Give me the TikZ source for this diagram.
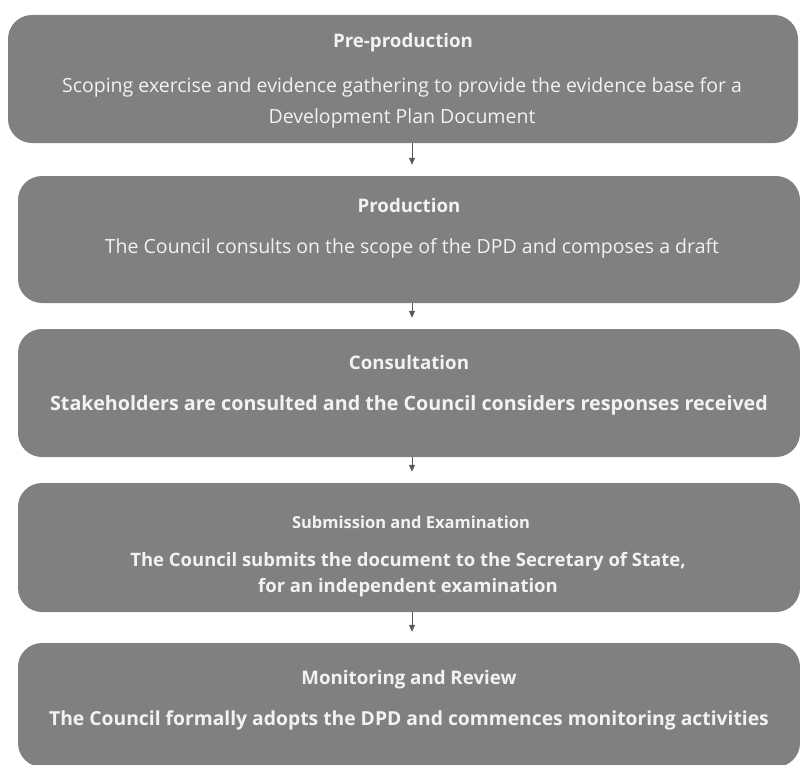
\documentclass[tikz,border=0pt]{standalone}
\usepackage{fontspec}
\setmainfont{Open Sans}
\usetikzlibrary{positioning,arrows.meta}

\definecolor{cor_caixa}{HTML}{808080}
\definecolor{cor_texto}{HTML}{F2F2F2}
\definecolor{cor_seta}{HTML}{5A5A5A}

\begin{document}
\begin{tikzpicture}[x=1pt,y=-1pt]
        \tikzset{
            etapa/.style={
                fill=cor_caixa,
                rounded corners=24pt,
                minimum width=782pt,
                minimum height=#1,
                inner sep=0pt
            },
            titulo/.style={
                text=cor_texto,
                font=\fontsize{#1}{22pt}\selectfont\bfseries,
                inner sep=0pt
            },
            titulo/.default=18.7pt,
            corpo/.style={
                text=cor_texto,
                align=center,
                font=\fontsize{19.5pt}{#1}\selectfont,
                inner sep=0pt
            },
            negrito/.style 2 args={
                text=cor_texto,
                align=center,
                font=\fontsize{#1}{#2}\selectfont\bfseries,
                inner sep=0pt
            },
            seta/.style={
                cor_seta,
                line width=1pt,
                shorten >=11pt,
                -{Triangle[width=6pt,length=7pt]}
            }
        }
        \useasboundingbox (0,0) rectangle (800,765);

        % CAIXAS
        \node[etapa=128pt, minimum width=790pt] (pre) at (403,79) {};
        \node[etapa=127pt] (prod) at (409,239.5) {};
        \node[etapa=128pt] (cons) at (409,393) {};
        \node[etapa=129pt] (sub) at (409,547.5) {};
        \node[etapa=124pt] (mon) at (409,705) {};

        % SETAS
        \draw[seta] ([xshift=9pt]pre.south) -- ([xshift=3pt]prod.north);
        \draw[seta] ([xshift=3pt]prod.south) -- ([xshift=3pt]cons.north);
        \draw[seta] ([xshift=3pt]cons.south) -- ([xshift=3pt]sub.north);
        \draw[seta] ([xshift=3pt]sub.south) -- ([xshift=3pt]mon.north);

        % TEXTOS
        \node[titulo] (t_pre) at (403,43) {Pre-production};
        \node[corpo=31pt] (d_pre) at (402,102.5) {Scoping exercise and evidence gathering to provide the evidence base for a\\Development Plan Document};

        \node[titulo] (t_prod) at (409,205) {Production};
        \node[corpo=31pt] (d_prod) at (412,248) {The Council consults on the scope of the DPD and composes a draft};

        \node[titulo] (t_cons) at (409,362) {Consultation};
        \node[negrito={19.7pt}{31pt}] (d_cons) at (409,405) {Stakeholders are consulted and the Council considers responses received};

        \node[titulo=16.5pt] (t_sub) at (411,522) {Submission and Examination};
        \node[negrito={18.5pt}{26pt}] (d_sub) at (408,575) {The Council submits the document to the Secretary of State,\\for an independent examination};

        \node[titulo] (t_mon) at (409,680) {Monitoring and Review};
        \node[negrito={19.3pt}{31pt}] (d_mon) at (409,720) {The Council formally adopts the DPD and commences monitoring activities};

    \end{tikzpicture}
\end{document}
